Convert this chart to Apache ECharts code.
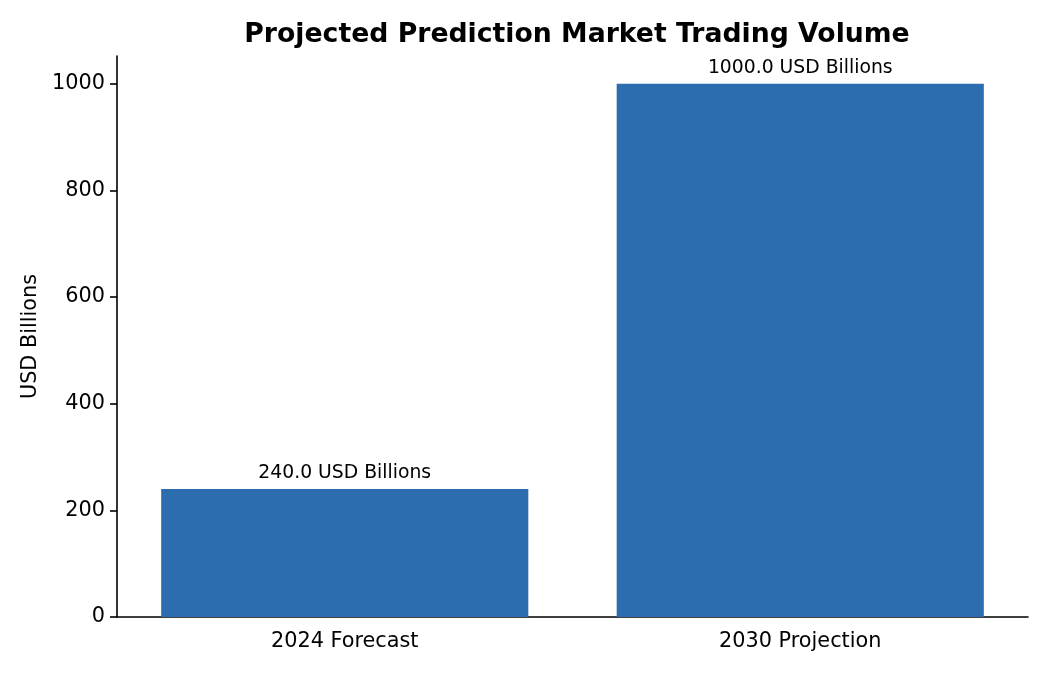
<!DOCTYPE html>
<html>
<head>
<meta charset="utf-8">
<script src="https://cdn.jsdelivr.net/npm/echarts@6/dist/echarts.min.js"></script>
<style>
  html, body { margin: 0; padding: 0; background: #fff; }
  #main { width: 1050px; height: 675px; }
</style>
</head>
<body>
<div id="main"></div>
<script>
// 类别
var categories = ['2024 Forecast', '2030 Projection'];
// 交易量 (十亿美元)
var volumes = [240, 1000];
// y轴刻度
var yTicks = [0, 200, 400, 600, 800, 1000];

var chart = echarts.init(document.getElementById('main'));

var font = 'DejaVu Sans';
var option = {
    animation: false,
    title: {
        text: 'Projected Prediction Market Trading Volume',
        left: 572,
        top: 17,
        textAlign: 'center',
        textStyle: { fontFamily: font, fontSize: 26.7, fontWeight: 'bold', color: '#000' }
    },
    grid: { left: 117, right: 22, top: 56, bottom: 58 },
    xAxis: {
        type: 'category',
        data: categories,
        axisLine: { lineStyle: { color: '#000', width: 1.6 } },
        axisTick: { alignWithLabel: true, length: 7, lineStyle: { color: '#000', width: 1.6 } },
        axisLabel: { fontFamily: font, fontSize: 20.8, color: '#000', margin: 14 }
    },
    yAxis: {
        type: 'value',
        min: yTicks[0],
        max: 1052,
        interval: 200,
        name: 'USD Billions',
        nameLocation: 'middle',
        nameGap: 75,
        nameTextStyle: { fontFamily: font, fontSize: 20.8, color: '#000' },
        splitLine: { show: false },
        axisLine: { show: true, lineStyle: { color: '#000', width: 1.6 } },
        axisTick: { show: true, length: 7, lineStyle: { color: '#000', width: 1.6 } },
        axisLabel: {
            fontFamily: font, fontSize: 20.8, color: '#000', margin: 12,
            showMaxLabel: false,
            formatter: function (v) { return yTicks.indexOf(v) >= 0 ? String(v) : ''; }
        }
    },
    series: [{
        type: 'bar',
        data: volumes,
        barWidth: '80.6%',
        itemStyle: { color: '#2c6db0' },
        label: {
            show: true,
            position: 'top',
            distance: 6,
            fontFamily: font,
            fontSize: 18.8,
            color: '#000',
            formatter: function (p) { return p.value.toFixed(1) + ' USD Billions'; }
        }
    }]
};

chart.setOption(option);
</script>
</body>
</html>
